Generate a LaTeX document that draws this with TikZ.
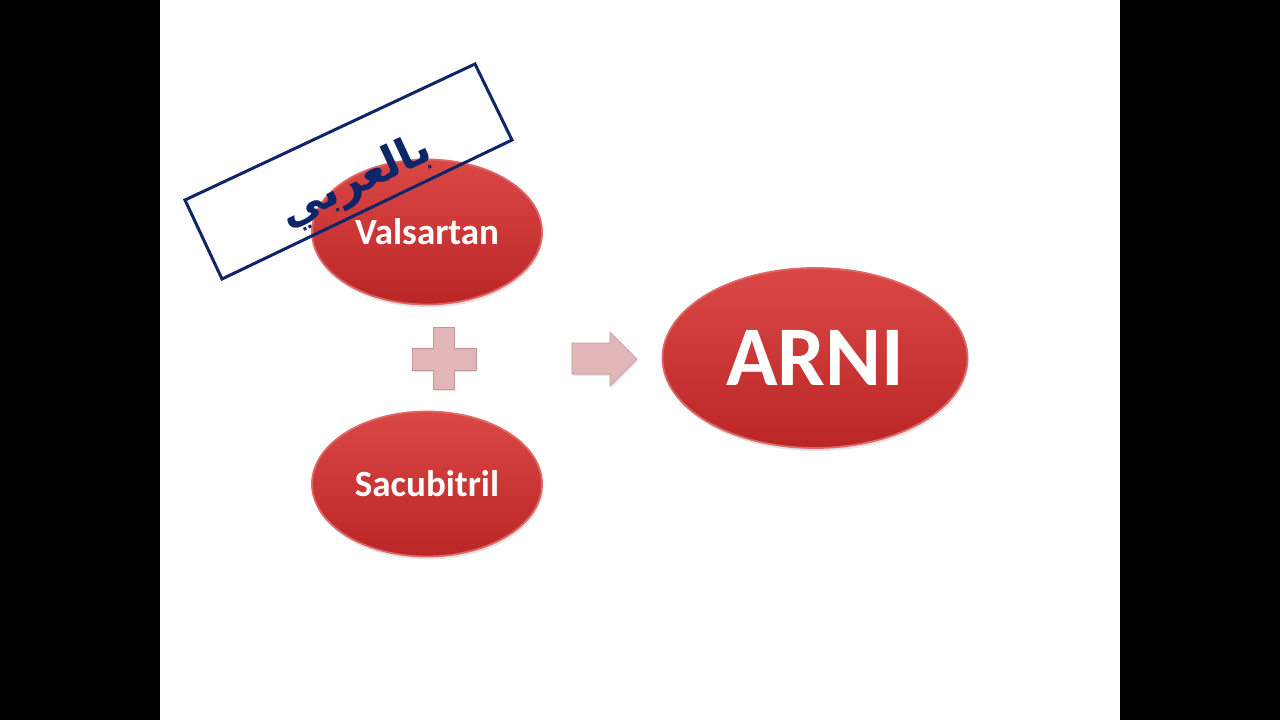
\documentclass[tikz,border=0pt]{standalone}
\usepackage{fontspec}
\setmainfont{Carlito}
\newfontfamily\arabicfont[Script=Arabic]{DejaVu Sans}
\TeXXeTstate=1
\usetikzlibrary{shapes.geometric,shadows}
\definecolor{pillTop}{RGB}{218,72,70}
\definecolor{pillBot}{RGB}{186,38,38}
\definecolor{pillEdge}{RGB}{222,104,102}
\definecolor{plusFill}{RGB}{226,182,184}
\definecolor{plusEdge}{RGB}{196,150,152}
\definecolor{navy}{RGB}{14,38,104}
\begin{document}
\begin{tikzpicture}[x=1pt,y=-1pt,
  pill/.style={ellipse, inner sep=0pt, top color=pillTop, bottom color=pillBot,
    draw=pillEdge, line width=1.8pt,
    drop shadow={shadow xshift=1pt, shadow yshift=-3pt, opacity=0.22},
    text=white, font=\bfseries},
  softshape/.style={fill=plusFill, draw=plusEdge, line width=0.6pt,
    drop shadow={shadow xshift=1pt, shadow yshift=-2pt, opacity=0.2}},
  stampbox/.style={draw=navy, line width=3pt, line join=miter}]
\useasboundingbox (0,0) rectangle (1280,720);
\fill[white] (0,0) rectangle (1280,720);
\fill[black] (0,0) rectangle (160,720);
\fill[black] (1120,0) rectangle (1280,720);

\node[pill, minimum width=230pt, minimum height=145pt,
  font=\bfseries\fontsize{37}{40}\selectfont] (val) at (427,232) {Valsartan};
\node[pill, minimum width=230pt, minimum height=145pt,
  font=\bfseries\fontsize{37}{40}\selectfont] (sac) at (427,484) {Sacubitril};
\node[pill, minimum width=305pt, minimum height=180pt,
  font=\bfseries\fontsize{85}{90}\selectfont] (arni) at (815,358) {ARNI};

% plus sign
\draw[softshape] (433,327) -- (454,327) -- (454,348) -- (476,348) -- (476,370)
  -- (454,370) -- (454,389) -- (433,389) -- (433,370) -- (412,370)
  -- (412,348) -- (433,348) -- cycle;
% block arrow
\draw[softshape] (572,343) -- (610,343) -- (610,332) -- (637,359)
  -- (610,386) -- (610,374) -- (572,374) -- cycle;

% stamp
\draw[stampbox] (185,200) -- (475,64) -- (512,140) -- (222,279) -- cycle;
\node[rotate=25, text=navy, inner sep=0pt,
  font=\arabicfont\bfseries\fontsize{44}{48}\selectfont] (stamp) at (356,183)
  {\beginR بالعربي\endR};
\end{tikzpicture}
\end{document}
